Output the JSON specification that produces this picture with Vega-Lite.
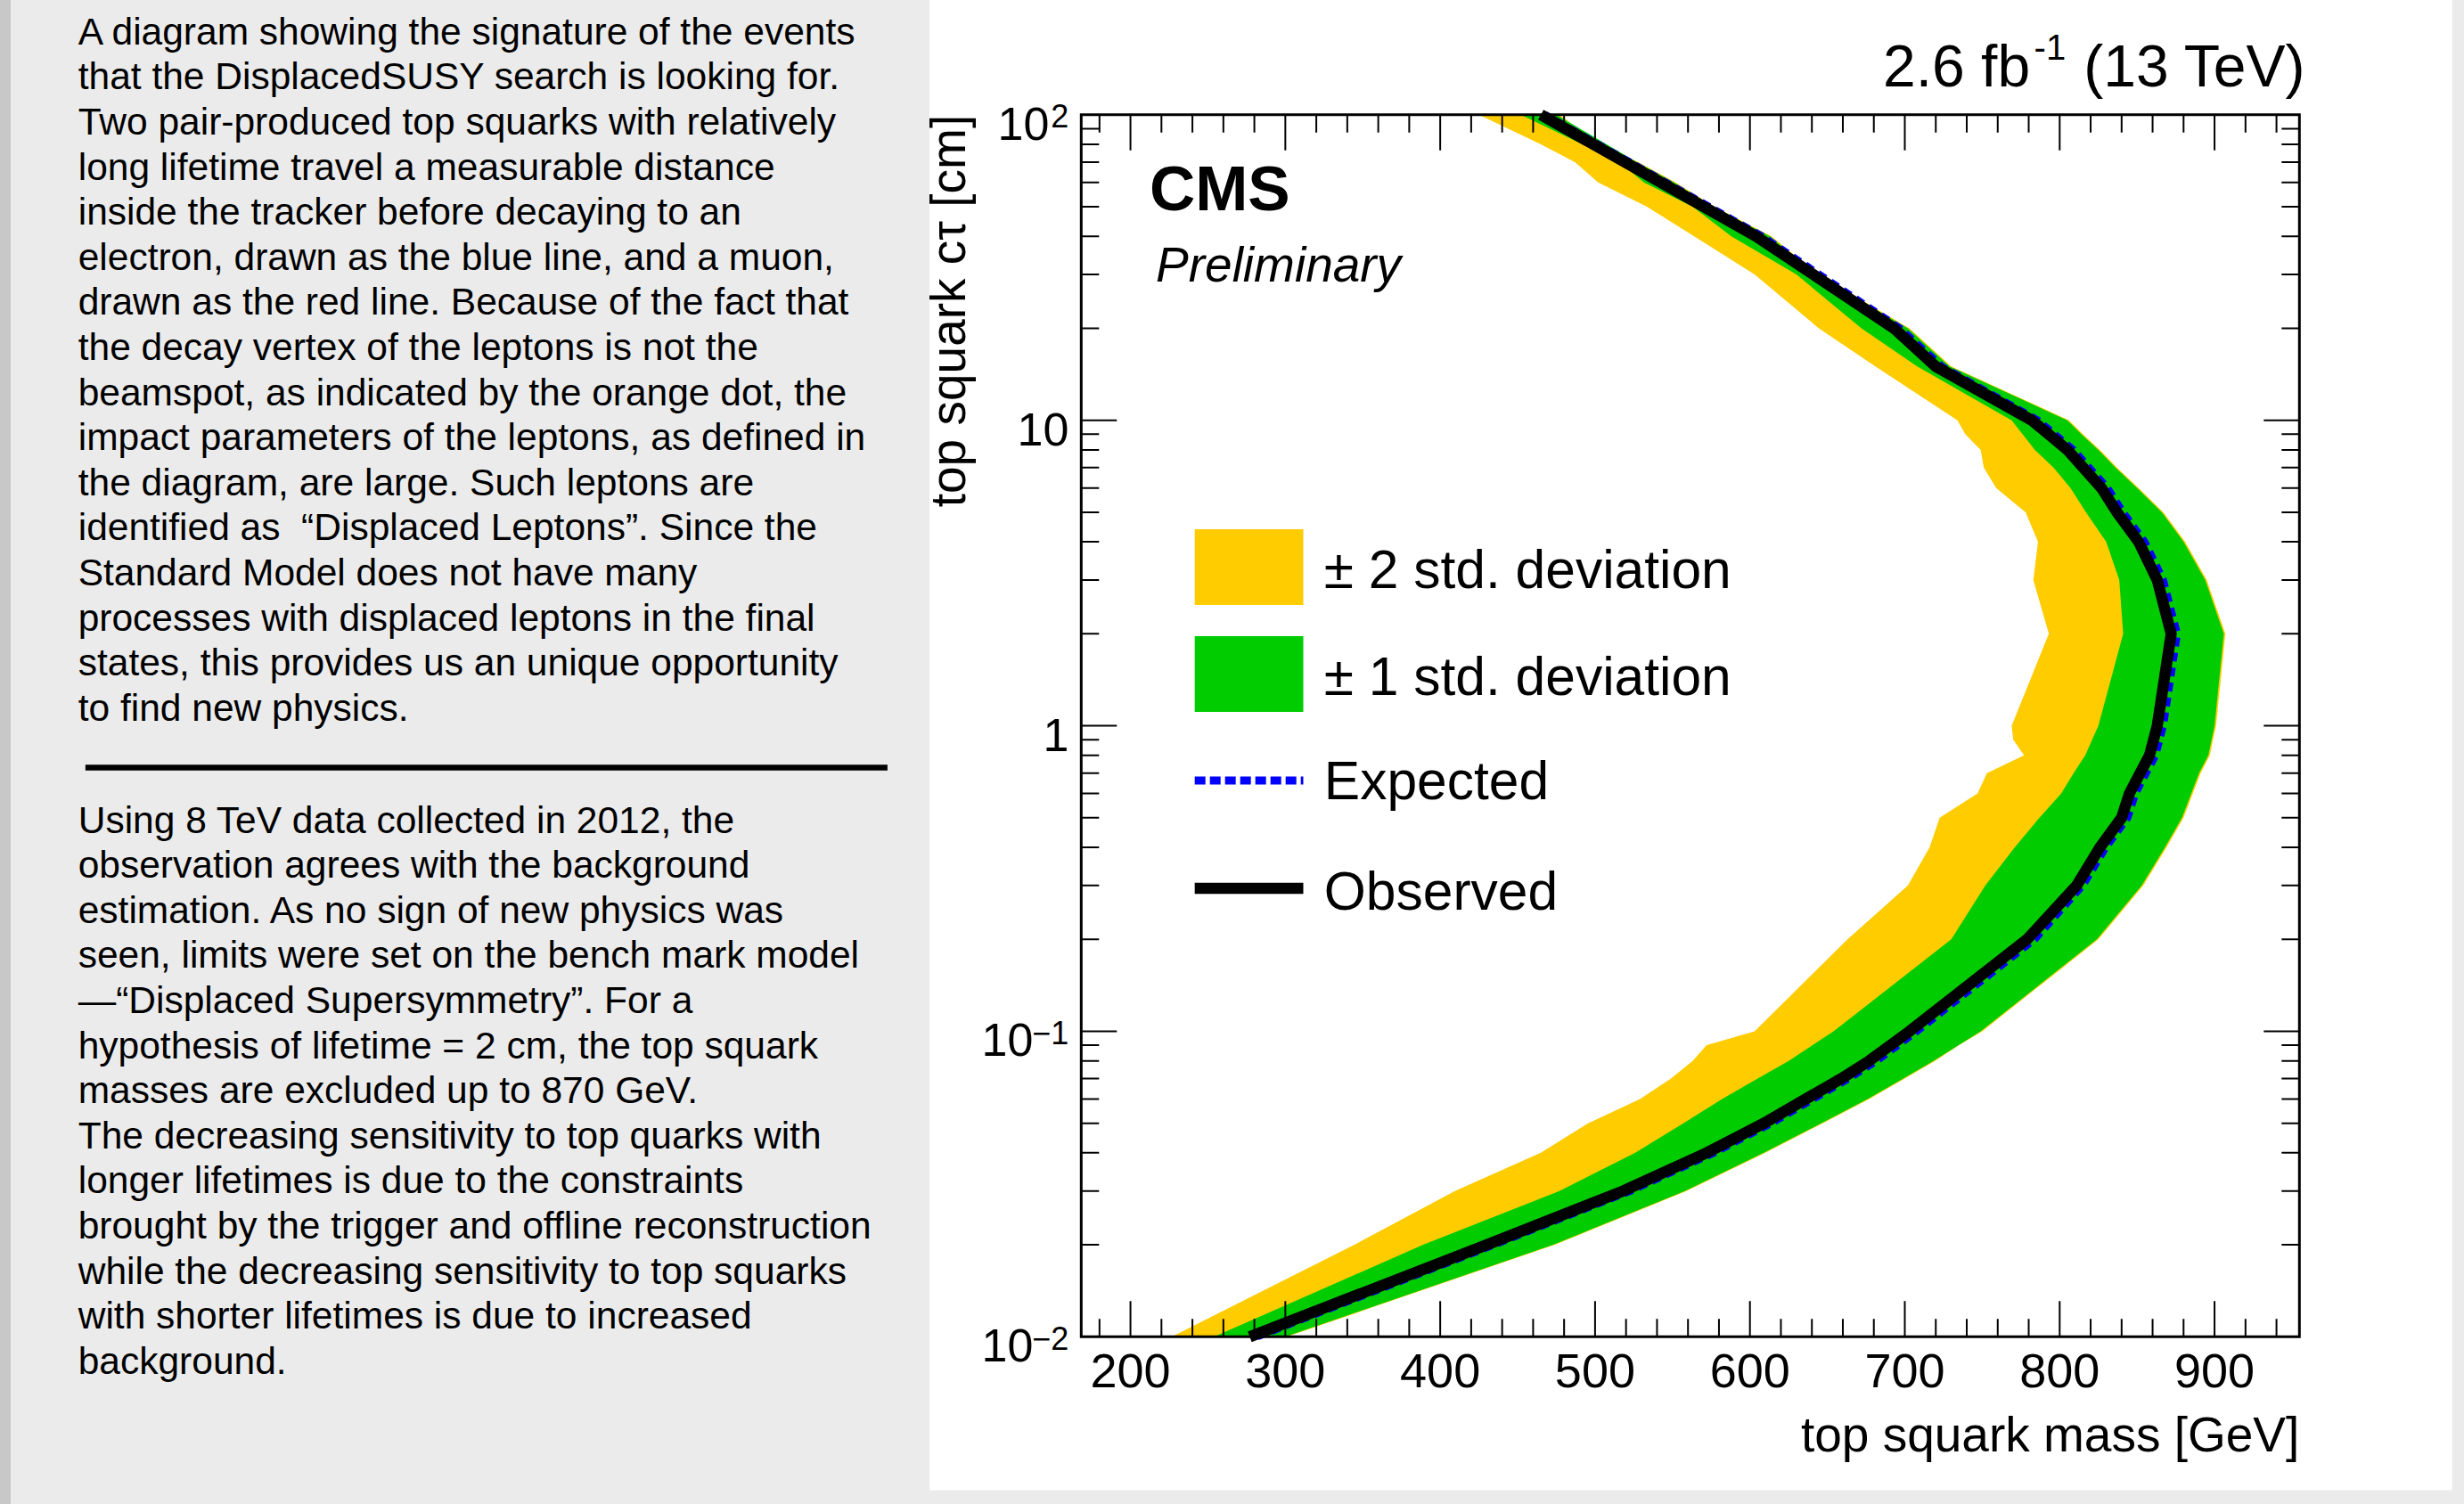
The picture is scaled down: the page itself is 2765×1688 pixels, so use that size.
{
  "$schema": "https://vega.github.io/schema/vega-lite/v6.json",
  "autosize": {"type": "none"},
  "width": 1367,
  "height": 1371.5,
  "padding": {"left": 1213.3, "top": 128.8, "right": 184.7, "bottom": 187.7},
  "background": "#ebebeb",
  "config": {"view": {"stroke": null}, "font": "Liberation Sans"},
  "datasets": {
    "yellow": [
      {"ct": 0.01, "lo": 226.7, "hi": 301}, {"ct": 0.02, "lo": 344.6, "hi": 474}, {"ct": 0.03, "lo": 409.5, "hi": 559},
      {"ct": 0.04, "lo": 465, "hi": 610}, {"ct": 0.05, "lo": 495.5, "hi": 647}, {"ct": 0.06, "lo": 529, "hi": 677},
      {"ct": 0.07, "lo": 549, "hi": 700}, {"ct": 0.08, "lo": 563, "hi": 719.5}, {"ct": 0.09, "lo": 572, "hi": 735},
      {"ct": 0.1, "lo": 603, "hi": 750}, {"ct": 0.2, "lo": 663, "hi": 825}, {"ct": 0.3, "lo": 702, "hi": 854},
      {"ct": 0.4, "lo": 716, "hi": 869}, {"ct": 0.5, "lo": 722.5, "hi": 880}, {"ct": 0.6, "lo": 747, "hi": 886},
      {"ct": 0.7, "lo": 753, "hi": 891}, {"ct": 0.8, "lo": 777, "hi": 897}, {"ct": 0.9, "lo": 770, "hi": 899},
      {"ct": 1, "lo": 769, "hi": 901}, {"ct": 2, "lo": 793, "hi": 907}, {"ct": 3, "lo": 783, "hi": 895},
      {"ct": 4, "lo": 786, "hi": 881}, {"ct": 5, "lo": 778, "hi": 867}, {"ct": 6, "lo": 759, "hi": 851},
      {"ct": 7, "lo": 751, "hi": 837}, {"ct": 8, "lo": 749, "hi": 826}, {"ct": 9, "lo": 739, "hi": 815},
      {"ct": 10, "lo": 734, "hi": 806}, {"ct": 15, "lo": 681, "hi": 730}, {"ct": 20, "lo": 644.5, "hi": 703},
      {"ct": 30, "lo": 603, "hi": 644}, {"ct": 40, "lo": 564, "hi": 614}, {"ct": 50, "lo": 533.5, "hi": 577},
      {"ct": 60, "lo": 502, "hi": 552}, {"ct": 70, "lo": 487, "hi": 528}, {"ct": 80, "lo": 465, "hi": 503},
      {"ct": 100, "lo": 425, "hi": 477}
    ],
    "green": [
      {"ct": 0.01, "lo": 254, "hi": 300}, {"ct": 0.02, "lo": 389, "hi": 473}, {"ct": 0.03, "lo": 477, "hi": 558},
      {"ct": 0.04, "lo": 526, "hi": 609}, {"ct": 0.05, "lo": 557, "hi": 646}, {"ct": 0.06, "lo": 582, "hi": 676},
      {"ct": 0.07, "lo": 605, "hi": 699}, {"ct": 0.08, "lo": 625, "hi": 718.5}, {"ct": 0.1, "lo": 654, "hi": 749},
      {"ct": 0.2, "lo": 730, "hi": 824}, {"ct": 0.3, "lo": 752, "hi": 853}, {"ct": 0.4, "lo": 771, "hi": 868},
      {"ct": 0.5, "lo": 787, "hi": 879}, {"ct": 0.6, "lo": 801, "hi": 885}, {"ct": 0.7, "lo": 809, "hi": 890},
      {"ct": 0.8, "lo": 816.5, "hi": 896}, {"ct": 1, "lo": 825, "hi": 900}, {"ct": 2, "lo": 841, "hi": 906},
      {"ct": 3, "lo": 838.5, "hi": 894}, {"ct": 4, "lo": 830, "hi": 880}, {"ct": 5, "lo": 817, "hi": 866},
      {"ct": 6, "lo": 807, "hi": 850}, {"ct": 7, "lo": 796, "hi": 836}, {"ct": 8, "lo": 784, "hi": 825},
      {"ct": 9, "lo": 776, "hi": 814}, {"ct": 10, "lo": 769, "hi": 805}, {"ct": 15, "lo": 708, "hi": 729},
      {"ct": 20, "lo": 672, "hi": 702}, {"ct": 30, "lo": 630, "hi": 643}, {"ct": 40, "lo": 588, "hi": 613},
      {"ct": 50, "lo": 563, "hi": 576}, {"ct": 60, "lo": 531.5, "hi": 551}, {"ct": 70, "lo": 516, "hi": 527},
      {"ct": 100, "lo": 452, "hi": 475}
    ],
    "observed": [
      {"ct": 0.01, "m": 277}, {"ct": 0.02, "m": 430}, {"ct": 0.03, "m": 518}, {"ct": 0.04, "m": 572},
      {"ct": 0.05, "m": 609}, {"ct": 0.06, "m": 636}, {"ct": 0.07, "m": 659}, {"ct": 0.08, "m": 677},
      {"ct": 0.1, "m": 703}, {"ct": 0.2, "m": 779}, {"ct": 0.3, "m": 811}, {"ct": 0.4, "m": 826},
      {"ct": 0.5, "m": 840}, {"ct": 0.6, "m": 845}, {"ct": 0.8, "m": 858}, {"ct": 1, "m": 863},
      {"ct": 2, "m": 872}, {"ct": 3, "m": 863}, {"ct": 4, "m": 851}, {"ct": 5, "m": 837},
      {"ct": 6, "m": 827}, {"ct": 8, "m": 805}, {"ct": 10, "m": 782}, {"ct": 15, "m": 720},
      {"ct": 20, "m": 693}, {"ct": 40, "m": 604}, {"ct": 100, "m": 465}
    ],
    "expected": [
      {"ct": 0.01, "m": 282}, {"ct": 0.02, "m": 435}, {"ct": 0.03, "m": 523}, {"ct": 0.04, "m": 577},
      {"ct": 0.05, "m": 614}, {"ct": 0.06, "m": 641}, {"ct": 0.07, "m": 664}, {"ct": 0.08, "m": 682},
      {"ct": 0.1, "m": 708}, {"ct": 0.2, "m": 784}, {"ct": 0.3, "m": 815}, {"ct": 0.4, "m": 830},
      {"ct": 0.5, "m": 844}, {"ct": 0.6, "m": 849}, {"ct": 0.8, "m": 862}, {"ct": 1, "m": 867},
      {"ct": 2, "m": 876}, {"ct": 3, "m": 867}, {"ct": 4, "m": 855}, {"ct": 5, "m": 841},
      {"ct": 6, "m": 831}, {"ct": 8, "m": 809}, {"ct": 10, "m": 786}, {"ct": 15, "m": 724},
      {"ct": 20, "m": 697}, {"ct": 40, "m": 608}, {"ct": 100, "m": 468}
    ],
    "xmaj": [{"m": 200}, {"m": 300}, {"m": 400}, {"m": 500}, {"m": 600}, {"m": 700}, {"m": 800}, {"m": 900}],
    "xmin": [
      {"m": 180}, {"m": 220}, {"m": 240}, {"m": 260}, {"m": 280}, {"m": 320}, {"m": 340}, {"m": 360}, {"m": 380},
      {"m": 420}, {"m": 440}, {"m": 460}, {"m": 480}, {"m": 520}, {"m": 540}, {"m": 560}, {"m": 580},
      {"m": 620}, {"m": 640}, {"m": 660}, {"m": 680}, {"m": 720}, {"m": 740}, {"m": 760}, {"m": 780},
      {"m": 820}, {"m": 840}, {"m": 860}, {"m": 880}, {"m": 920}, {"m": 940}
    ],
    "ymaj": [{"ct": 0.01}, {"ct": 0.1}, {"ct": 1}, {"ct": 10}, {"ct": 100}],
    "ymin": [
      {"ct": 0.02}, {"ct": 0.03}, {"ct": 0.04}, {"ct": 0.05}, {"ct": 0.06}, {"ct": 0.07}, {"ct": 0.08}, {"ct": 0.09},
      {"ct": 0.2}, {"ct": 0.3}, {"ct": 0.4}, {"ct": 0.5}, {"ct": 0.6}, {"ct": 0.7}, {"ct": 0.8}, {"ct": 0.9},
      {"ct": 2}, {"ct": 3}, {"ct": 4}, {"ct": 5}, {"ct": 6}, {"ct": 7}, {"ct": 8}, {"ct": 9},
      {"ct": 20}, {"ct": 30}, {"ct": 40}, {"ct": 50}, {"ct": 60}, {"ct": 70}, {"ct": 80}, {"ct": 90}
    ],
    "ylab": [
      {"ct": 100, "base": "10", "sup": "2", "grp": "b"},
      {"ct": 10, "base": "10", "sup": "", "grp": "a"},
      {"ct": 1, "base": "1", "sup": "", "grp": "a"},
      {"ct": 0.1, "base": "10", "sup": "−1", "grp": "c"},
      {"ct": 0.01, "base": "10", "sup": "−2", "grp": "c"}
    ],
    "para1": [{"t": "A diagram showing the signature of the events\nthat the DisplacedSUSY search is looking for.\nTwo pair-produced top squarks with relatively\nlong lifetime travel a measurable distance\ninside the tracker before decaying to an\nelectron, drawn as the blue line, and a muon,\ndrawn as the red line. Because of the fact that\nthe decay vertex of the leptons is not the\nbeamspot, as indicated by the orange dot, the\nimpact parameters of the leptons, as defined in\nthe diagram, are large. Such leptons are\nidentified as \u00a0“Displaced Leptons”. Since the\nStandard Model does not have many\nprocesses with displaced leptons in the final\nstates, this provides us an unique opportunity\nto find new physics."}],
    "para2": [{"t": "Using 8 TeV data collected in 2012, the\nobservation agrees with the background\nestimation. As no sign of new physics was\nseen, limits were set on the bench mark model\n—“Displaced Supersymmetry”. For a\nhypothesis of lifetime = 2 cm, the top squark\nmasses are excluded up to 870 GeV.\nThe decreasing sensitivity to top quarks with\nlonger lifetimes is due to the constraints\nbrought by the trigger and offline reconstruction\nwhile the decreasing sensitivity to top squarks\nwith shorter lifetimes is due to increased\nbackground."}]
  },
  "layer": [
    {
      "data": {"values": [{}]},
      "mark": {"type": "rect", "fill": "white", "opacity": 1},
      "encoding": {
        "x": {"datum": 70.2, "type": "quantitative", "axis": null, "scale": {"domain": [168.2, 954.8], "nice": false, "zero": false}},
        "x2": {"datum": 1053.4},
        "y": {"datum": 237.4, "type": "quantitative", "axis": null, "scale": {"type": "log", "domain": [0.01, 100], "nice": false}},
        "y2": {"datum": 0.003145}
      }
    },
    {
      "data": {"values": [{}]},
      "mark": {"type": "rect", "fill": "#c8c8c8", "opacity": 1},
      "encoding": {
        "x": {"datum": -530, "type": "quantitative", "axis": null},
        "x2": {"datum": -523.1},
        "y": {"datum": 237.4, "type": "quantitative", "axis": null},
        "y2": {"datum": 0.00283}
      }
    },
    {
      "data": {"name": "yellow"},
      "mark": {"type": "area", "orient": "horizontal", "fill": "#ffcc00", "opacity": 1},
      "encoding": {
        "y": {"field": "ct", "type": "quantitative", "axis": null},
        "x": {"field": "lo", "type": "quantitative", "axis": null},
        "x2": {"field": "hi"}
      }
    },
    {
      "data": {"name": "green"},
      "mark": {"type": "area", "orient": "horizontal", "fill": "#00cc00", "opacity": 1},
      "encoding": {
        "y": {"field": "ct", "type": "quantitative", "axis": null},
        "x": {"field": "lo", "type": "quantitative", "axis": null},
        "x2": {"field": "hi"}
      }
    },
    {
      "data": {"name": "expected"},
      "mark": {"type": "line", "stroke": "#0000ff", "strokeWidth": 8, "strokeDash": [10, 7], "opacity": 1},
      "encoding": {
        "x": {"field": "m", "type": "quantitative", "axis": null},
        "y": {"field": "ct", "type": "quantitative", "axis": null},
        "order": {"field": "ct", "type": "quantitative"}
      }
    },
    {
      "data": {"name": "observed"},
      "mark": {"type": "line", "stroke": "black", "strokeWidth": 12.5, "strokeJoin": "miter", "opacity": 1},
      "encoding": {
        "x": {"field": "m", "type": "quantitative", "axis": null},
        "y": {"field": "ct", "type": "quantitative", "axis": null},
        "order": {"field": "ct", "type": "quantitative"}
      }
    },
    {
      "data": {"name": "xmaj"},
      "mark": {"type": "tick", "orient": "vertical", "size": 80, "thickness": 2, "color": "black", "opacity": 1, "clip": true},
      "encoding": {
        "x": {"field": "m", "type": "quantitative", "axis": null},
        "y": {"datum": 0.01, "type": "quantitative", "axis": null}
      }
    },
    {
      "data": {"name": "xmaj"},
      "mark": {"type": "tick", "orient": "vertical", "size": 80, "thickness": 2, "color": "black", "opacity": 1, "clip": true},
      "encoding": {
        "x": {"field": "m", "type": "quantitative", "axis": null},
        "y": {"datum": 100, "type": "quantitative", "axis": null}
      }
    },
    {
      "data": {"name": "xmin"},
      "mark": {"type": "tick", "orient": "vertical", "size": 40, "thickness": 2, "color": "black", "opacity": 1, "clip": true},
      "encoding": {
        "x": {"field": "m", "type": "quantitative", "axis": null},
        "y": {"datum": 0.01, "type": "quantitative", "axis": null}
      }
    },
    {
      "data": {"name": "xmin"},
      "mark": {"type": "tick", "orient": "vertical", "size": 40, "thickness": 2, "color": "black", "opacity": 1, "clip": true},
      "encoding": {
        "x": {"field": "m", "type": "quantitative", "axis": null},
        "y": {"datum": 100, "type": "quantitative", "axis": null}
      }
    },
    {
      "data": {"name": "ymaj"},
      "mark": {"type": "tick", "orient": "horizontal", "size": 80, "thickness": 2, "color": "black", "opacity": 1, "clip": true},
      "encoding": {
        "y": {"field": "ct", "type": "quantitative", "axis": null},
        "x": {"datum": 168.2, "type": "quantitative", "axis": null}
      }
    },
    {
      "data": {"name": "ymaj"},
      "mark": {"type": "tick", "orient": "horizontal", "size": 80, "thickness": 2, "color": "black", "opacity": 1, "clip": true},
      "encoding": {
        "y": {"field": "ct", "type": "quantitative", "axis": null},
        "x": {"datum": 954.8, "type": "quantitative", "axis": null}
      }
    },
    {
      "data": {"name": "ymin"},
      "mark": {"type": "tick", "orient": "horizontal", "size": 40, "thickness": 2, "color": "black", "opacity": 1, "clip": true},
      "encoding": {
        "y": {"field": "ct", "type": "quantitative", "axis": null},
        "x": {"datum": 168.2, "type": "quantitative", "axis": null}
      }
    },
    {
      "data": {"name": "ymin"},
      "mark": {"type": "tick", "orient": "horizontal", "size": 40, "thickness": 2, "color": "black", "opacity": 1, "clip": true},
      "encoding": {
        "y": {"field": "ct", "type": "quantitative", "axis": null},
        "x": {"datum": 954.8, "type": "quantitative", "axis": null}
      }
    },
    {
      "data": {"values": [{}]},
      "mark": {"type": "rect", "fill": null, "fillOpacity": 0, "stroke": "black", "strokeWidth": 3, "opacity": 1},
      "encoding": {
        "x": {"datum": 168.2, "type": "quantitative", "axis": null},
        "x2": {"datum": 954.8},
        "y": {"datum": 0.01, "type": "quantitative", "axis": null},
        "y2": {"datum": 100}
      }
    },
    {
      "data": {"name": "xmaj"},
      "mark": {"type": "text", "font": "Liberation Sans", "fontSize": 54, "align": "center", "baseline": "alphabetic", "dy": 56.5, "color": "black"},
      "encoding": {
        "x": {"field": "m", "type": "quantitative", "axis": null},
        "y": {"datum": 0.01, "type": "quantitative", "axis": null},
        "text": {"field": "m", "type": "quantitative", "format": "d"}
      }
    },
    {
      "data": {"name": "ylab"},
      "transform": [{"filter": "datum.grp == 'a'"}],
      "mark": {"type": "text", "font": "Liberation Sans", "fontSize": 52, "align": "right", "baseline": "alphabetic", "dx": -14, "dy": 28, "color": "black"},
      "encoding": {
        "y": {"field": "ct", "type": "quantitative", "axis": null},
        "x": {"datum": 168.2, "type": "quantitative", "axis": null},
        "text": {"field": "base"}
      }
    },
    {
      "data": {"name": "ylab"},
      "transform": [{"filter": "datum.grp == 'b'"}],
      "mark": {"type": "text", "font": "Liberation Sans", "fontSize": 52, "align": "right", "baseline": "alphabetic", "dx": -36, "dy": 28, "color": "black"},
      "encoding": {
        "y": {"field": "ct", "type": "quantitative", "axis": null},
        "x": {"datum": 168.2, "type": "quantitative", "axis": null},
        "text": {"field": "base"}
      }
    },
    {
      "data": {"name": "ylab"},
      "transform": [{"filter": "datum.grp == 'c'"}],
      "mark": {"type": "text", "font": "Liberation Sans", "fontSize": 52, "align": "right", "baseline": "alphabetic", "dx": -54, "dy": 28, "color": "black"},
      "encoding": {
        "y": {"field": "ct", "type": "quantitative", "axis": null},
        "x": {"datum": 168.2, "type": "quantitative", "axis": null},
        "text": {"field": "base"}
      }
    },
    {
      "data": {"name": "ylab"},
      "transform": [{"filter": "datum.grp != 'a'"}],
      "mark": {"type": "text", "font": "Liberation Sans", "fontSize": 36, "align": "right", "baseline": "alphabetic", "dx": -14, "dy": 14.5, "color": "black"},
      "encoding": {
        "y": {"field": "ct", "type": "quantitative", "axis": null},
        "x": {"datum": 168.2, "type": "quantitative", "axis": null},
        "text": {"field": "sup"}
      }
    },
    {
      "data": {"values": [{"t": "top squark mass [GeV]"}]},
      "mark": {"type": "text", "font": "Liberation Sans", "fontSize": 55, "align": "right", "baseline": "alphabetic", "color": "black"},
      "encoding": {
        "x": {"datum": 954.8, "type": "quantitative", "axis": null},
        "y": {"datum": 0.004202, "type": "quantitative", "axis": null},
        "text": {"field": "t"}
      }
    },
    {
      "data": {"values": [{"t": "top squark cτ [cm]"}]},
      "mark": {"type": "text", "font": "Liberation Sans", "fontSize": 55, "align": "right", "baseline": "alphabetic", "angle": 270, "color": "black"},
      "encoding": {
        "x": {"datum": 93.4, "type": "quantitative", "axis": null},
        "y": {"datum": 100, "type": "quantitative", "axis": null},
        "text": {"field": "t"}
      }
    },
    {
      "data": {"values": [{"t": "2.6 fb"}]},
      "mark": {"type": "text", "font": "Liberation Sans", "fontSize": 66, "align": "left", "baseline": "alphabetic", "color": "black"},
      "encoding": {
        "x": {"datum": 685.9, "type": "quantitative", "axis": null},
        "y": {"datum": 124.1, "type": "quantitative", "axis": null},
        "text": {"field": "t"}
      }
    },
    {
      "data": {"values": [{"t": "-1"}]},
      "mark": {"type": "text", "font": "Liberation Sans", "fontSize": 40, "align": "left", "baseline": "alphabetic", "color": "black"},
      "encoding": {
        "x": {"datum": 783.5, "type": "quantitative", "axis": null},
        "y": {"datum": 151.7, "type": "quantitative", "axis": null},
        "text": {"field": "t"}
      }
    },
    {
      "data": {"values": [{"t": "(13 TeV)"}]},
      "mark": {"type": "text", "font": "Liberation Sans", "fontSize": 66, "align": "left", "baseline": "alphabetic", "color": "black"},
      "encoding": {
        "x": {"datum": 815.5, "type": "quantitative", "axis": null},
        "y": {"datum": 124.1, "type": "quantitative", "axis": null},
        "text": {"field": "t"}
      }
    },
    {
      "data": {"values": [{"t": "CMS"}]},
      "mark": {"type": "text", "font": "Liberation Sans", "fontWeight": "bold", "fontSize": 71, "align": "left", "baseline": "alphabetic", "color": "black"},
      "encoding": {
        "x": {"datum": 212.3, "type": "quantitative", "axis": null},
        "y": {"datum": 48.7, "type": "quantitative", "axis": null},
        "text": {"field": "t"}
      }
    },
    {
      "data": {"values": [{"t": "Preliminary"}]},
      "mark": {"type": "text", "font": "Liberation Sans", "fontStyle": "italic", "fontSize": 55, "align": "left", "baseline": "alphabetic", "color": "black"},
      "encoding": {
        "x": {"datum": 216.4, "type": "quantitative", "axis": null},
        "y": {"datum": 28.36, "type": "quantitative", "axis": null},
        "text": {"field": "t"}
      }
    },
    {
      "data": {"values": [{}]},
      "mark": {"type": "rect", "fill": "#ffcc00", "opacity": 1},
      "encoding": {
        "x": {"datum": 241.5, "type": "quantitative", "axis": null},
        "x2": {"datum": 311.6},
        "y": {"datum": 4.399, "type": "quantitative", "axis": null},
        "y2": {"datum": 2.486}
      }
    },
    {
      "data": {"values": [{}]},
      "mark": {"type": "rect", "fill": "#00cc00", "opacity": 1},
      "encoding": {
        "x": {"datum": 241.5, "type": "quantitative", "axis": null},
        "x2": {"datum": 311.6},
        "y": {"datum": 1.965, "type": "quantitative", "axis": null},
        "y2": {"datum": 1.11}
      }
    },
    {
      "data": {"values": [{}]},
      "mark": {"type": "rule", "stroke": "#0000ff", "strokeWidth": 9, "strokeDash": [12, 5], "opacity": 1},
      "encoding": {
        "x": {"datum": 241.5, "type": "quantitative", "axis": null},
        "x2": {"datum": 311.6},
        "y": {"datum": 0.6623, "type": "quantitative", "axis": null}
      }
    },
    {
      "data": {"values": [{}]},
      "mark": {"type": "rule", "stroke": "black", "strokeWidth": 12.5, "opacity": 1},
      "encoding": {
        "x": {"datum": 241.5, "type": "quantitative", "axis": null},
        "x2": {"datum": 311.6},
        "y": {"datum": 0.2938, "type": "quantitative", "axis": null}
      }
    },
    {
      "data": {"values": [{"t": "± 2 std. deviation"}]},
      "mark": {"type": "text", "font": "Liberation Sans", "fontSize": 60.5, "align": "left", "baseline": "alphabetic", "color": "black"},
      "encoding": {
        "x": {"datum": 325, "type": "quantitative", "axis": null},
        "y": {"datum": 2.824, "type": "quantitative", "axis": null},
        "text": {"field": "t"}
      }
    },
    {
      "data": {"values": [{"t": "± 1 std. deviation"}]},
      "mark": {"type": "text", "font": "Liberation Sans", "fontSize": 60.5, "align": "left", "baseline": "alphabetic", "color": "black"},
      "encoding": {
        "x": {"datum": 325, "type": "quantitative", "axis": null},
        "y": {"datum": 1.262, "type": "quantitative", "axis": null},
        "text": {"field": "t"}
      }
    },
    {
      "data": {"values": [{"t": "Expected"}]},
      "mark": {"type": "text", "font": "Liberation Sans", "fontSize": 60.5, "align": "left", "baseline": "alphabetic", "color": "black"},
      "encoding": {
        "x": {"datum": 325, "type": "quantitative", "axis": null},
        "y": {"datum": 0.575, "type": "quantitative", "axis": null},
        "text": {"field": "t"}
      }
    },
    {
      "data": {"values": [{"t": "Observed"}]},
      "mark": {"type": "text", "font": "Liberation Sans", "fontSize": 60.5, "align": "left", "baseline": "alphabetic", "color": "black"},
      "encoding": {
        "x": {"datum": 325, "type": "quantitative", "axis": null},
        "y": {"datum": 0.2501, "type": "quantitative", "axis": null},
        "text": {"field": "t"}
      }
    },
    {
      "data": {"name": "para1"},
      "mark": {"type": "text", "font": "Liberation Sans", "fontSize": 42.5, "lineHeight": 50.6, "lineBreak": "\n", "align": "left", "baseline": "alphabetic", "color": "black"},
      "encoding": {
        "x": {"datum": -479.5, "type": "quantitative", "axis": null},
        "y": {"datum": 169.9, "type": "quantitative", "axis": null},
        "text": {"field": "t"}
      }
    },
    {
      "data": {"name": "para2"},
      "mark": {"type": "text", "font": "Liberation Sans", "fontSize": 42.5, "lineHeight": 50.6, "lineBreak": "\n", "align": "left", "baseline": "alphabetic", "color": "black"},
      "encoding": {
        "x": {"datum": -479.5, "type": "quantitative", "axis": null},
        "y": {"datum": 0.4467, "type": "quantitative", "axis": null},
        "text": {"field": "t"}
      }
    },
    {
      "data": {"values": [{}]},
      "mark": {"type": "rule", "stroke": "black", "strokeWidth": 6.5, "opacity": 1},
      "encoding": {
        "x": {"datum": -474.8, "type": "quantitative", "axis": null},
        "x2": {"datum": 43.1},
        "y": {"datum": 0.7295, "type": "quantitative", "axis": null}
      }
    }
  ]
}
